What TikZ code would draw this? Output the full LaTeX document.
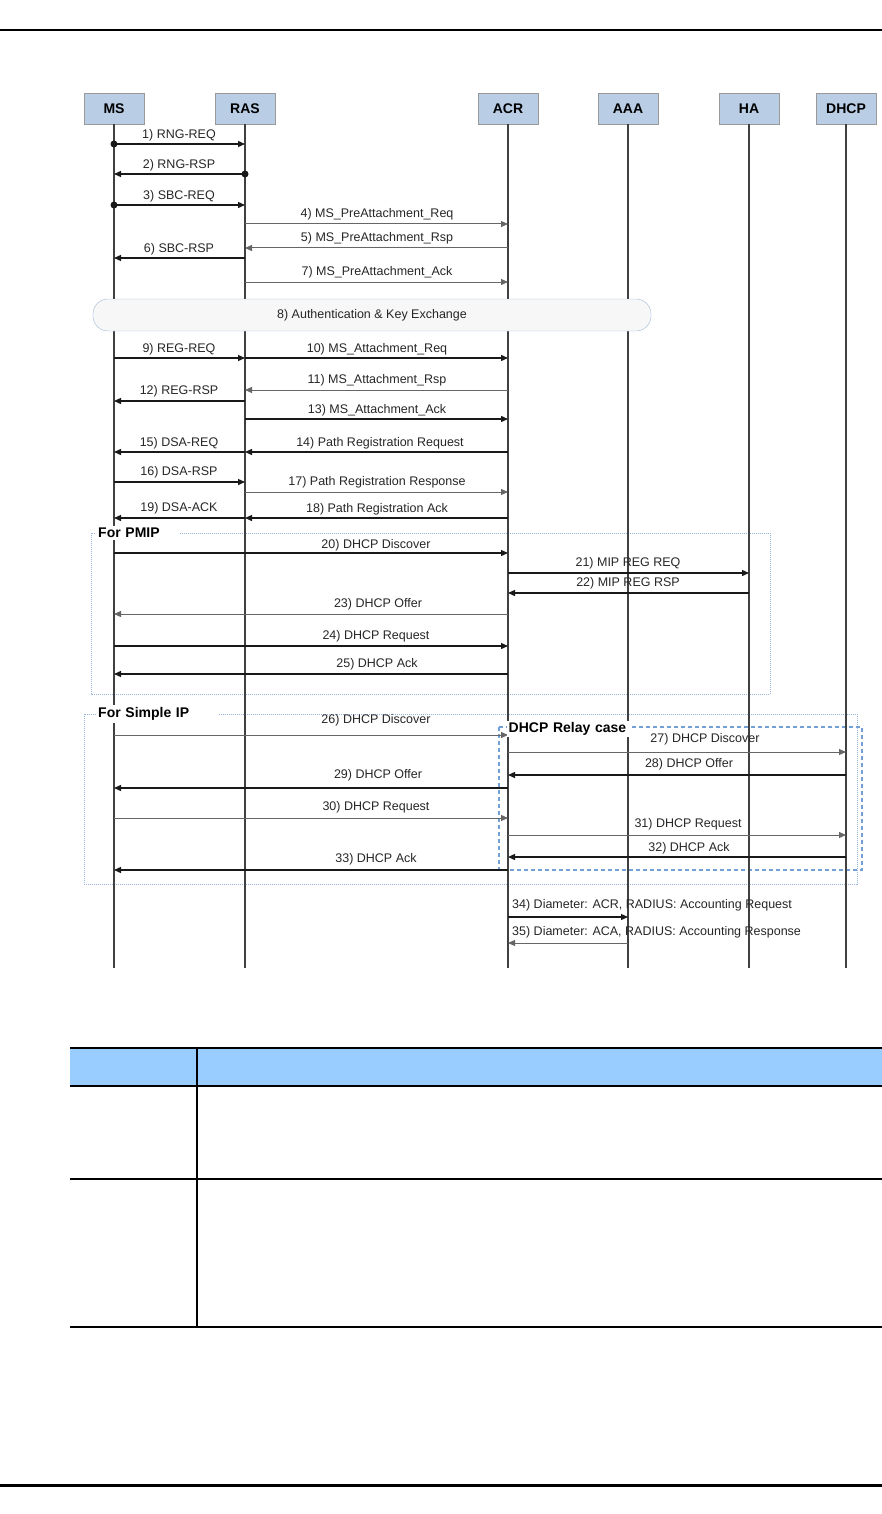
\documentclass[tikz,border=0pt]{standalone}
\usepackage{fontspec}
\setmainfont{Liberation Sans}
\usetikzlibrary{arrows.meta}
\definecolor{hdrB}{RGB}{185,205,229}
\definecolor{tabB}{RGB}{153,204,255}
\definecolor{dotB}{RGB}{150,180,222}
\definecolor{dashB}{RGB}{115,160,215}
\definecolor{ovalB}{RGB}{160,185,215}

\tikzset{
  entity/.style={draw=gray!80, fill=hdrB, minimum width=60pt, minimum height=31pt,
    inner sep=0pt, font=\fontsize{14}{16}\selectfont\bfseries},
  life/.style={draw=black!75, line width=1.5pt},
  msg/.style={draw=black!90, line width=1.3pt, -{Triangle[length=7pt,width=6pt]}},
  msgt/.style={draw=black!60, line width=1pt, -{Triangle[length=7pt,width=6pt]}},
  lbl/.style={font=\fontsize{12.5}{14}\selectfont, text=black!85, inner sep=0pt},
  grp/.style={font=\fontsize{14}{16}\selectfont\bfseries, fill=white, inner sep=2pt, anchor=west},
}

\begin{document}
\begin{tikzpicture}[x=1pt,y=-1pt]
\useasboundingbox (0,0) rectangle (882,1514);
% page rules
\draw[line width=2pt] (0,30) -- (882,30);
\draw[line width=3pt] (0,1485) -- (882,1485);

% entities
\node[entity] (MS) at (114,108.5) {MS};
\node[entity] (RAS) at (245,108.5) {RAS};
\node[entity] (ACR) at (508,108.5) {ACR};
\node[entity] (AAA) at (628,108.5) {AAA};
\node[entity] (HA) at (749,108.5) {HA};
\node[entity] (DHCP) at (846,108.5) {DHCP};

% section frames
\draw[dotB, dash pattern=on 1pt off 1pt, line width=0.8pt] (91,533) rectangle (770,694);
\draw[dotB, dash pattern=on 1pt off 1pt, line width=0.8pt] (84,714) rectangle (857,884);
\draw[dashB, dash pattern=on 4pt off 3pt, line width=1.1pt] (499,727) rectangle (862,870);

% lifelines
\foreach \n in {MS,RAS,ACR,AAA,HA,DHCP}
  \draw[life] (\n.south) -- (\n |- 0,968);

% step 8
\node[lbl, draw=ovalB, fill=black!3, rounded corners=15pt, minimum width=558pt,
  minimum height=32pt] (auth) at (372,315) {8) Authentication \& Key Exchange};

% messages
\foreach \i/\y/\a/\b/\s/\lx/\ly/\t in {
  1/144/MS/RAS/msg/179/135/{1) RNG-REQ},
  2/174/RAS/MS/msg/179/165/{2) RNG-RSP},
  3/205/MS/RAS/msg/179/196/{3) SBC-REQ},
  4/224/RAS/ACR/msgt/377/214/{4) MS\_PreAttachment\_Req},
  5/248/ACR/RAS/msgt/377/238/{5) MS\_PreAttachment\_Rsp},
  6/258/RAS/MS/msg/179/249/{6) SBC-RSP},
  7/282/RAS/ACR/msgt/377/272/{7) MS\_PreAttachment\_Ack},
  9/358/MS/RAS/msg/179/349/{9) REG-REQ},
  10/358/RAS/ACR/msg/377/349/{10) MS\_Attachment\_Req},
  11/390/ACR/RAS/msgt/377/380/{11) MS\_Attachment\_Rsp},
  12/401/RAS/MS/msg/179/391/{12) REG-RSP},
  13/419/RAS/ACR/msg/377/410/{13) MS\_Attachment\_Ack},
  14/452/ACR/RAS/msg/380/443/{14) Path Registration Request},
  15/452/RAS/MS/msg/179/443/{15) DSA-REQ},
  16/482/MS/RAS/msg/179/472/{16) DSA-RSP},
  17/492/RAS/ACR/msgt/377/482/{17) Path Registration Response},
  18/518/ACR/RAS/msg/377/509/{18) Path Registration Ack},
  19/518/RAS/MS/msg/179/508/{19) DSA-ACK},
  20/553/MS/ACR/msg/376/545/{20) DHCP Discover},
  21/573/ACR/HA/msg/628/563/{21) MIP REG REQ},
  22/593/HA/ACR/msg/628/583/{22) MIP REG RSP},
  23/614/ACR/MS/msgt/378/604/{23) DHCP Offer},
  24/646/MS/ACR/msg/376/636/{24) DHCP Request},
  25/674/ACR/MS/msg/377/664/{25) DHCP Ack},
  26/735/MS/ACR/msgt/376/720/{26) DHCP Discover},
  27/752/ACR/DHCP/msgt/705/739/{27) DHCP Discover},
  28/775/DHCP/ACR/msg/689/764/{28) DHCP Offer},
  29/788/ACR/MS/msg/378/775/{29) DHCP Offer},
  30/818/MS/ACR/msgt/376/807/{30) DHCP Request},
  31/835/ACR/DHCP/msgt/688/824/{31) DHCP Request},
  32/857/DHCP/ACR/msg/689/848/{32) DHCP Ack},
  33/870/ACR/MS/msg/376/859/{33) DHCP Ack}}{
  \draw[\s] (\a |- 0,\y) -- (\b |- 0,\y);
  \node[lbl] (t\i) at (\lx,\ly) {\t};
}
% start dots of the ranging messages
\foreach \a/\y in {MS/144,RAS/174,MS/205}
  \fill[black!90] (\a |- 0,\y) circle (3.5pt);
\draw[msg] (ACR |- 0,917) -- (AAA |- 0,917);
\node[lbl, anchor=west] (t34) at (512,905) {34) Diameter: ACR, RADIUS: Accounting Request};
\draw[msgt] (AAA |- 0,943) -- (ACR |- 0,943);
\node[lbl, anchor=west] (t35) at (512,932) {35) Diameter: ACA, RADIUS: Accounting Response};

% frame titles
\node[grp, text width=80pt] (pmip) at (96,533) {For PMIP};
\node[grp, text width=118pt] (sip) at (96,714) {For Simple IP};
\node[grp, text width=122pt, inner sep=1.5pt] (relay) at (507,729) {DHCP Relay case};

% table
\fill[tabB] (70,1049) rectangle (882,1086);
\draw[line width=2pt] (70,1048) -- (882,1048);
\draw[line width=2pt] (70,1086) -- (882,1086);
\draw[line width=2pt] (70,1179) -- (882,1179);
\draw[line width=2pt] (70,1327) -- (882,1327);
\draw[line width=1.5pt] (197,1048) -- (197,1327);
\end{tikzpicture}
\end{document}
